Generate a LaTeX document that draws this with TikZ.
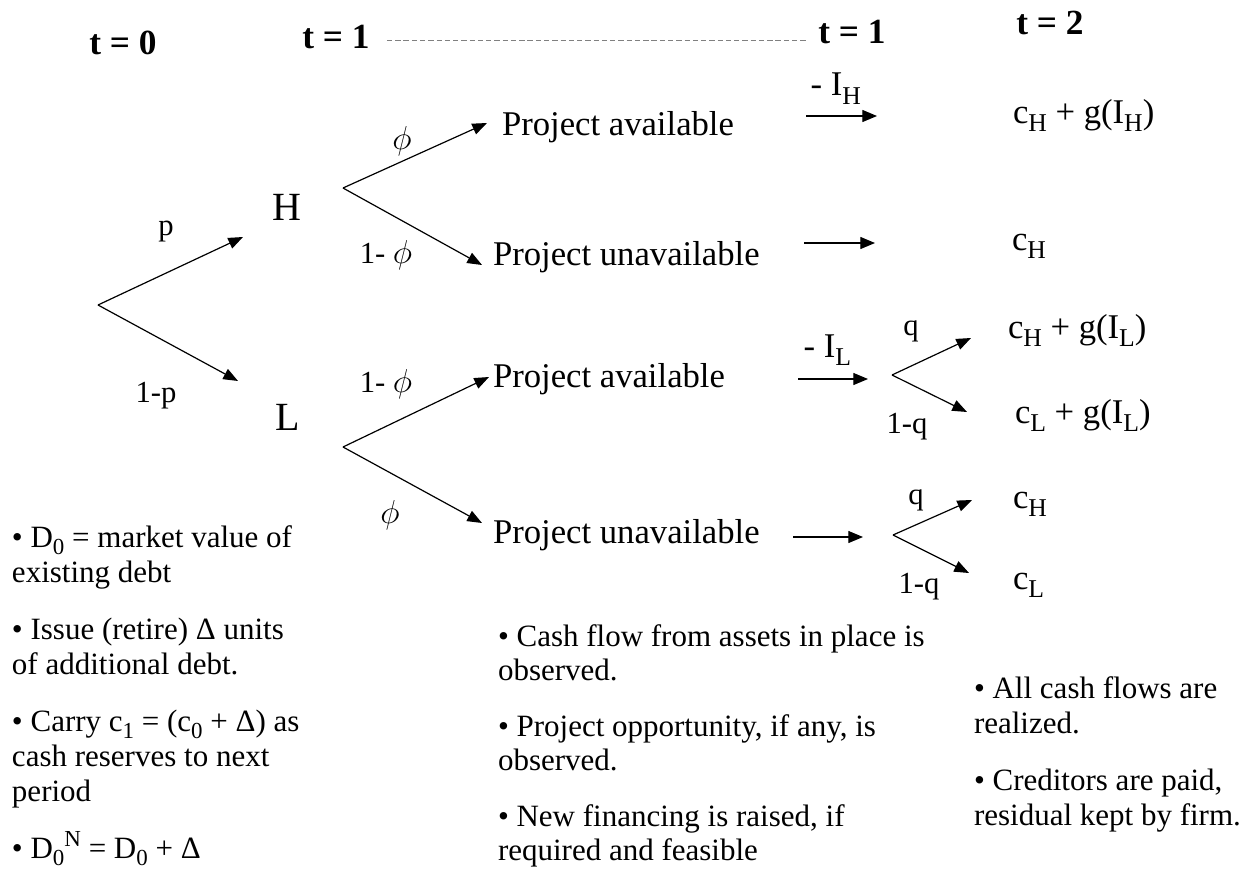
\documentclass[tikz,border=0pt]{standalone}
\usepackage{fontspec}
\usepackage{graphicx}
\setmainfont{Liberation Serif}
\usetikzlibrary{arrows.meta, positioning, calc}

% lowered / raised indices as in the slide
\newcommand{\lo}[1]{\raisebox{-0.24em}{\scalebox{0.74}{#1}}}
\newcommand{\hi}[1]{\raisebox{0.38em}{\scalebox{0.74}{#1}}}

\tikzset{
  every node/.style={inner sep=0pt, outer sep=0pt},
  hdr/.style={font=\fontsize{26.5}{30}\selectfont\bfseries},
  txt/.style={font=\fontsize{26}{30}\selectfont},
  big/.style={font=\fontsize{30}{34}\selectfont},
  lab/.style={font=\fontsize{23}{27}\selectfont},
  philab/.style={font=\fontsize{26}{30}\selectfont},
  note/.style={font=\fontsize{23.25}{26.25}\selectfont, align=left, anchor=base west},
  branch/.style={-{Triangle[length=11pt,width=8.5pt]}, line width=0.9pt},
  flow/.style={-{Triangle[length=11pt,width=9pt]}, line width=0.9pt},
  dline/.style={gray, line width=0.6pt, dash pattern=on 4pt off 2.2pt}
}

\begin{document}
\begin{tikzpicture}[x=0.75pt, y=-0.75pt]

    \useasboundingbox (0,0) rectangle (1247,878);

    % --- time line ---
    \node[hdr, anchor=base] (t0)  at (123,55) {t = 0};
    \node[hdr, anchor=base] (t1a) at (336,48) {t = 1};
    \node[hdr, anchor=base] (t1b) at (852,43) {t = 1};
    \node[hdr, anchor=base] (t2)  at (1050,35) {t = 2};
    \draw[dline] ([xshift=13pt, yshift=-3pt]t1a.east) -- ([xshift=-9pt, yshift=-3pt]t1a.east -| t1b.west);

    % --- first split: state of the firm ---
    \coordinate (root) at (98,305);
    \coordinate (toH)  at (243,237);
    \coordinate (toL)  at (238,381);
    \draw[branch] (root) -- (toH);
    \draw[branch] (root) -- (toL);
    \node[lab, anchor=base] (p)  at (166,235) {p};
    \node[lab, anchor=base] (np) at (156,402) {1-p};
    \node[big, anchor=base] (H) at (287,220) {H};
    \node[big, anchor=base] (L) at (288,430) {L};

    % --- project arrival ---
    \coordinate (splitH) at (343,188);
    \coordinate (toPAH)  at (487,123);
    \coordinate (toPUH)  at (482,265);
    \draw[branch] (splitH) -- (toPAH);
    \draw[branch] (splitH) -- (toPUH);
    \node[philab] (phiH) at (402,141) {$\phi$};
    \node[lab, anchor=base] (nphiH) at (386,263) {1- {\fontsize{26}{30}\selectfont$\phi$}};

    \coordinate (splitL) at (343,447);
    \coordinate (toPAL)  at (489,377);
    \coordinate (toPUL)  at (482,523);
    \draw[branch] (splitL) -- (toPAL);
    \draw[branch] (splitL) -- (toPUL);
    \node[lab, anchor=base] (nphiL) at (386,392) {1- {\fontsize{26}{30}\selectfont$\phi$}};
    \node[philab] (phiL) at (390,515) {$\phi$};

    \node[txt, anchor=base west] (PAH) at (502,135) {Project available};
    \node[txt, anchor=base west] (PUH) at (493,265) {Project unavailable};
    \node[txt, anchor=base west] (PAL) at (493,387) {Project available};
    \node[txt, anchor=base west] (PUL) at (493,543) {Project unavailable};

    % --- arrows to t = 2 ---
    \coordinate (fH1) at (806,116); \coordinate (eH1) at (877,116);
    \coordinate (fH2) at (804,243); \coordinate (eH2) at (875,243);
    \coordinate (fL1) at (798,379); \coordinate (eL1) at (868,379);
    \coordinate (fL2) at (793,537); \coordinate (eL2) at (863,537);
    \draw[flow] (fH1) -- node[txt, above=9pt, pos=0.42] {- I\lo{H}} (eH1);
    \draw[flow] (fH2) -- (eH2);
    \draw[flow] (fL1) -- node[txt, above=10pt, pos=0.42] {- I\lo{L}} (eL1);
    \draw[flow] (fL2) -- (eL2);

    % --- cash flow draws ---
    \coordinate (qA) at (892,375);
    \coordinate (qA1) at (971,338); \coordinate (qA2) at (967,412);
    \draw[branch] (qA) -- (qA1);
    \draw[branch] (qA) -- (qA2);
    \node[lab, anchor=base] (qa)  at (911,335) {q};
    \node[lab, anchor=base] (nqa) at (907,433) {1-q};

    \coordinate (qB) at (893,535);
    \coordinate (qB1) at (972,500); \coordinate (qB2) at (969,573);
    \draw[branch] (qB) -- (qB1);
    \draw[branch] (qB) -- (qB2);
    \node[lab, anchor=base] (qb)  at (916,504) {q};
    \node[lab, anchor=base] (nqb) at (919,593) {1-q};

    % --- payoffs at t = 2 ---
    \node[txt, anchor=base west] (oH1) at (1013,123) {c\lo{H} + g(I\lo{H})};
    \node[txt, anchor=base west] (oH2) at (1012,250) {c\lo{H}};
    \node[txt, anchor=base west] (oL1) at (1008,338) {c\lo{H} + g(I\lo{L})};
    \node[txt, anchor=base west] (oL2) at (1015,423) {c\lo{L} + g(I\lo{L})};
    \node[txt, anchor=base west] (oL3) at (1013,508) {c\lo{H}};
    \node[txt, anchor=base west] (oL4) at (1013,589) {c\lo{L}};

    % --- notes under each date (base = last line) ---
    \node[note] (notes0) at (12,858) {%
      • D\lo{0} = market value of\\ existing debt\\[16.5pt]
      • Issue (retire) Δ units\\ of additional debt.\\[16.5pt]
      • Carry c\lo{1} = (c\lo{0} + Δ) as\\ cash reserves to next\\ period\\[16.5pt]
      • D\lo{0}\hi{N} = D\lo{0} + Δ};
    \node[note, font=\fontsize{23.25}{25}\selectfont] (notes1) at (498,860) {%
      • Cash flow from assets in place is\\ observed.\\[17.5pt]
      • Project opportunity, if any, is\\ observed.\\[17.5pt]
      • New financing is raised, if\\ required and feasible};
    \node[note] (notes2) at (974,825) {%
      • All cash flows are\\ realized.\\[16.5pt]
      • Creditors are paid,\\ residual kept by firm.};

\end{tikzpicture}
\end{document}
